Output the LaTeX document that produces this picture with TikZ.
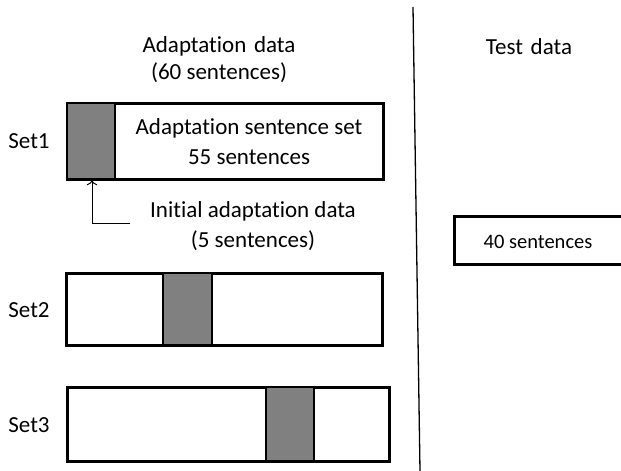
\documentclass[tikz,border=0pt]{standalone}
\usepackage{fontspec}
\setmainfont{Carlito}[Ligatures = NoCommon]
\usetikzlibrary{positioning, arrows.meta}
\tikzset{
	setbox/.style = {draw, line width = 3pt, fill = white, inner sep = 0pt},
	greybox/.style = {draw, line width = 2.4pt, fill = gray, inner sep = 0pt},
	setlabel/.style = {font = \fontsize{23}{27}\selectfont},
	txt/.style = {font = \fontsize{23}{30}\selectfont, align = center}
}

\begin{document}
\begin{tikzpicture}[x = 1pt, y = -1pt]
	\useasboundingbox (0,0) rectangle (621,471);
	
	\node [font = \fontsize{23}{27}\selectfont, align = center] (adapthead) at (219,60) {Adaptation\,\,data\\(60 sentences)};
	\node [txt] (testhead) at (529,47) {Test\,\,data};
	
	\draw [line width = 1.3pt] (413,7) -- (420,471);
	
	% the three sets
	\node [setbox, minimum width = 316, minimum height = 76] (set1) at (225,141) {};
	\node [greybox, minimum width = 48, minimum height = 76] (init1) at (91,141) {};
	\node [txt] (set1text) at (249,142) {Adaptation sentence set\\55 sentences};
	
	\node [setbox, minimum width = 316, minimum height = 72] (set2) at (224,309) {};
	\node [greybox, minimum width = 49, minimum height = 72] (init2) at (187.5,309) {};
	
	\node [setbox, minimum width = 322, minimum height = 74] (set3) at (228,424) {};
	\node [greybox, minimum width = 48, minimum height = 74] (init3) at (290,424) {};
	
	\node [setlabel] (lab1) at (29,141) {Set1};
	\node [setlabel] (lab2) at (29,310) {Set2};
	\node [setlabel] (lab3) at (29,425) {Set3};
	
	\node [txt] (inittext) at (253,226) {Initial adaptation data\\(5 sentences)};
	\coordinate (armend) at (130,223);
	\draw [-{To[length=5pt]}, line width = 1pt] (armend) -| ([xshift = 1pt]init1.south);
	
	% test data
	\node [setbox, minimum width = 180, minimum height = 48, anchor = west] (testbox) at (453,240) {};
	\node [font = \fontsize{20.5}{24}\selectfont] (testtext) at (538,242) {40 sentences};
\end{tikzpicture}
\end{document}
